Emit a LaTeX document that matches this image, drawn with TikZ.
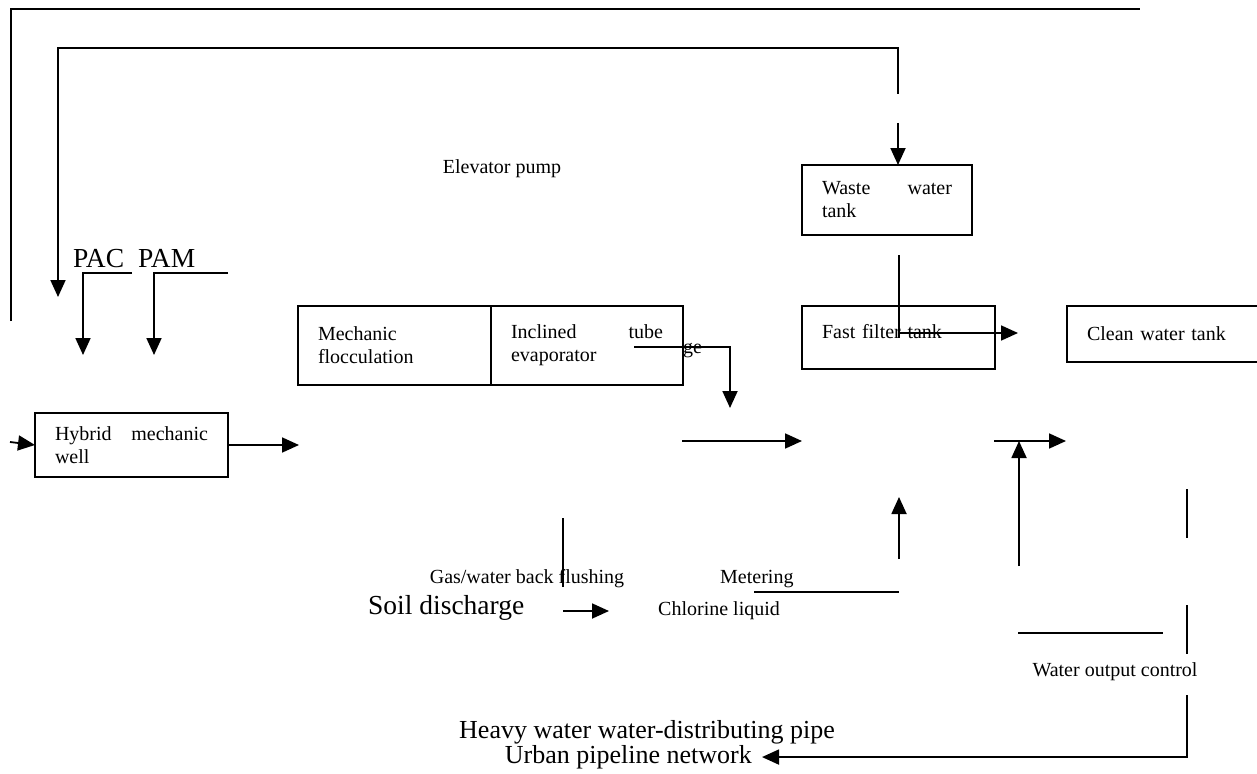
\documentclass[tikz,border=0pt]{standalone}
\usepackage{fontspec}
\setmainfont{Liberation Serif}
\usetikzlibrary{arrows.meta,positioning}

\tikzset{
  flow/.style={line width=1.8pt},
  arr/.style={flow, -{Triangle[length=17pt,width=15pt]}},
  box/.style={draw, line width=1.8pt, anchor=north west, align=left, inner xsep=20pt, inner ysep=0pt, outer sep=0pt},
  lbl/.style={inner sep=0pt},
  big/.style={inner sep=0pt, font=\fontsize{27.5}{32}\selectfont},
}

\begin{document}
\begin{tikzpicture}[x=1pt, y=-1pt, font=\fontsize{20}{23}\selectfont]
        \useasboundingbox (0,0) rectangle (1257,773);

        % Tanks
        \node[box, text width=153pt, minimum height=64pt] (hybrid) at (35,413) {Hybrid\hfill mechanic\\well};
        \node[box, text width=153pt, minimum height=79pt] (floc) at (298,306) {Mechanic\\flocculation};
        \node[box, text width=152pt, minimum height=79pt] (incl) at (floc.north east) {Inclined\hfill tube\\evaporator};
        \node[box, text width=130pt, minimum height=70pt] (waste) at (802,165) {Waste\hfill water\\tank};
        \node[box, text width=153pt, minimum height=63pt, text depth=12pt] (fast) at (802,306) {Fast filter tank};
        \node[box, text width=160pt, minimum height=56pt] (clean) at (1067,306) {Clean water tank};

        % Labels
        \node[lbl] (pump) at (502,169) {Elevator pump};
        \node[big, anchor=mid west] (pac) at (73,265) {PAC};
        \node[big, anchor=mid west] (pam) at (138,265) {PAM};
        \node[lbl, anchor=mid west] (ge) at (683,351) {ge};
        \node[lbl, anchor=mid] (flush) at (527,581) {Gas/water back flushing};
        \node[lbl, anchor=mid west] (meter) at (720,581) {Metering};
        \node[big, anchor=mid west] (soil) at (368,612) {Soil discharge};
        \node[lbl, anchor=mid west] (chlor) at (658,613) {Chlorine liquid};
        \node[lbl, anchor=mid] (outctl) at (1115,674) {Water output control};
        \node[lbl, anchor=mid, font=\fontsize{26}{30}\selectfont] (pipe) at (647,736) {Heavy water water-distributing pipe};
        \node[lbl, anchor=mid east, font=\fontsize{26}{30}\selectfont] (urban) at (752,761) {Urban pipeline network};

        % Return lines
        \coordinate (back) at (11,321);
        \coordinate (lift) at (898,94);
        \draw[flow] (back) |- (1140,9);
        \draw[arr] (lift) |- (58,48) -- (58,297);
        \draw[arr] (898,123) -- (waste.north -| lift);

        % Dosing
        \foreach \a/\b in {83/132,154/228}
        \draw[arr] (\b,273) -| (\a,355);

        % Main flow
        \draw[arr] (10,442) -- (hybrid.west);
        \draw[arr] (hybrid.east) -- ++(71,0);
        \draw[arr] (634,347) -| (730,408);
        \draw[arr] (682,441) -- (802,441);
        \draw[arr] (994,441) -- (1066,441);
        \draw[flow] (899,255) -- (899,338);
        \draw[arr] (899,333) -- (1018,333);

        % Flushing and chlorine
        \draw[flow] (563,518) -- (563,587);
        \draw[arr] (563,611) -- (609,611);
        \draw[flow] (754,592) -- (899,592);
        \draw[arr] (899,559) -- (899,497);
        \draw[arr] (1019,566) -- (1019,441);

        % Output
        \foreach \a/\b in {489/538,605/654}
        \draw[flow] (1187,\a) -- (1187,\b);
        \draw[flow] (1018,633) -- (1163,633);
        \draw[arr] (1187,695) |- ([xshift=10pt]urban.east);
\end{tikzpicture}
\end{document}
